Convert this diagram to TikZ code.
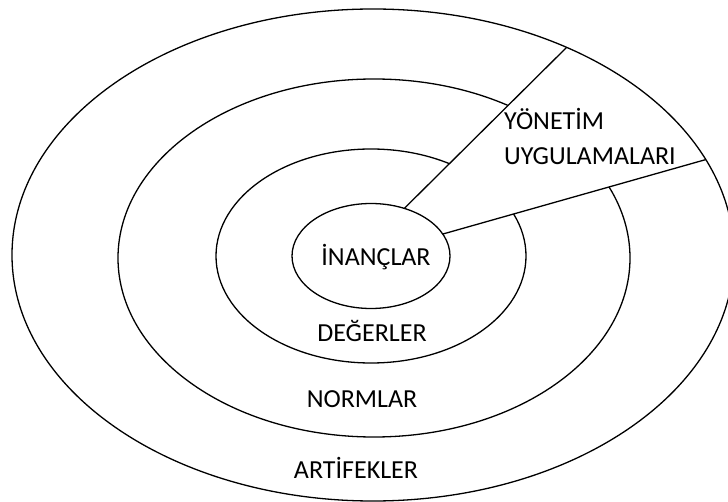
\documentclass[tikz,border=0pt]{standalone}
\usepackage{fontspec}
\setmainfont{Carlito}
\usetikzlibrary{shapes.geometric,calc}
\begin{document}
\begin{tikzpicture}[x=1pt,y=1pt]

    % Halka ve yazi stilleri
    \tikzset{halka/.style={ellipse, draw, line width=1.3pt, inner sep=0pt, outer sep=0pt}}
    \tikzset{etiket/.style={font=\fontsize{26}{31}\selectfont, inner sep=0pt}}

    % Sayfa sinirlari
    \useasboundingbox (0,0) rectangle (728,501);

    % En dis ve en ic halka
    \node[halka, minimum width=722pt, minimum height=492pt] (artifek) at (373,246) {};
    \node[halka, minimum width=158pt, minimum height=105pt] (inanc) at (371,245) {};

    % Yonetim uygulamalari dilimi
    \draw[line width=1.3pt] (inanc.55) -- (artifek.47);
    \draw[line width=1.3pt] (inanc.17) -- (artifek.16);

    % Ara halkalar (dilimin icinde cizilmez)
    \begin{scope}
        \clip (inanc.55) -- ($(inanc.55)!1.6!(artifek.47)$) -- (-100,700) -- (-100,-200)
            -- (900,-200) -- ($(inanc.17)!1.6!(artifek.16)$) -- (inanc.17) -- cycle;
        \node[halka, minimum width=512pt, minimum height=358pt] (normlar) at (374,243) {};
        \node[halka, minimum width=310pt, minimum height=214pt] (degerler) at (371,245) {};
    \end{scope}

    % Katman adlari
    \node[etiket, anchor=base] (tInanc) at (376,235) {İNANÇLAR};
    \node[etiket, anchor=base] (tDeger) at (372,160) {DEĞERLER};
    \node[etiket, anchor=base] (tNorm) at (362,94) {NORMLAR};
    \node[etiket, anchor=base] (tArtif) at (356,23) {ARTİFEKLER};
    \node[etiket, anchor=base west] (tYon) at (504,371) {YÖNETİM};
    \node[etiket, anchor=base west] (tUyg) at (504,336) {UYGULAMALARI};

\end{tikzpicture}
\end{document}
